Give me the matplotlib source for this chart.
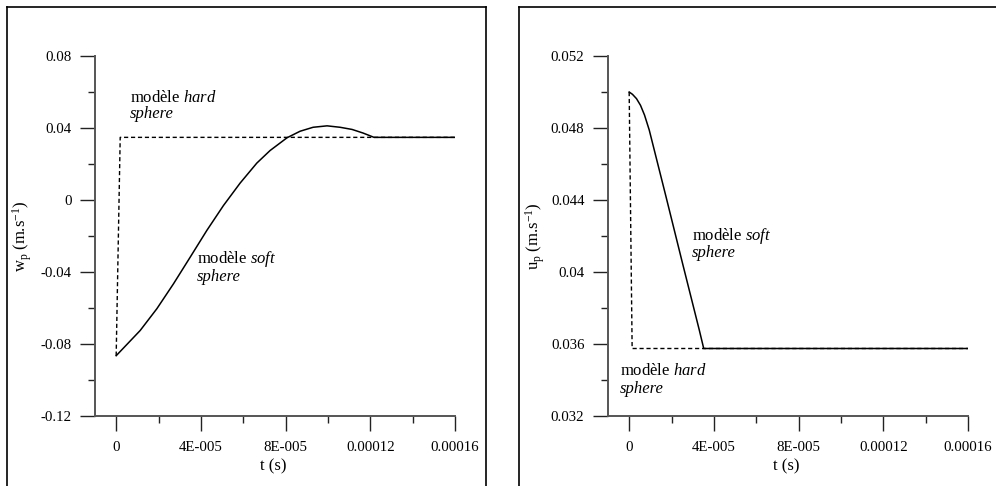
import matplotlib
matplotlib.use("Agg")
import matplotlib.pyplot as plt
from matplotlib.lines import Line2D
from matplotlib.ticker import FixedLocator

plt.rcParams["font.family"] = ["Liberation Serif", "DejaVu Serif"]
plt.rcParams["mathtext.fontset"] = "custom"
plt.rcParams["mathtext.rm"] = "Liberation Serif"
plt.rcParams["mathtext.it"] = "Liberation Serif:italic"

# --- left panel: vertical velocity w_p ---
w_soft_t = [0, 1.133e-5, 1.921e-5, 2.704e-5, 3.493e-5, 4.281e-5, 5.064e-5, 5.853e-5,
            6.641e-5, 7.269e-5, 8.071e-5, 8.685e-5, 9.298e-5, 9.959e-5, 1.0572e-4,
            1.1139e-4, 1.1658e-4, 1.2177e-4, 1.6e-4]
w_soft_v = [-0.0865, -0.0725, -0.0604, -0.0466, -0.0318, -0.0169, -0.0031, 0.0094,
            0.0205, 0.0275, 0.0346, 0.0382, 0.0404, 0.0412, 0.0404,
            0.0392, 0.0372, 0.0348, 0.0348]
w_hard_t = [0, 1.9e-6, 1.6e-4]
w_hard_v = [-0.0865, 0.0348, 0.0348]

# --- right panel: horizontal velocity u_p ---
u_soft_t = [0, 1.56e-6, 3.46e-6, 5.35e-6, 7.24e-6, 9.47e-6, 1.74e-5, 2.52e-5, 3.31e-5,
            3.52e-5, 1.6e-4]
u_soft_v = [0.0500, 0.04987, 0.04963, 0.04926, 0.04872, 0.04789, 0.04418, 0.04048,
            0.03678, 0.03575, 0.03575]
u_hard_t = [0, 1.4e-6, 1.6e-4]
u_hard_v = [0.0500, 0.03575, 0.03575]

x_major = [0, 4e-5, 8e-5, 1.2e-4, 1.6e-4]
x_labels = ["0", "4E-005", "8E-005", "0.00012", "0.00016"]
x_minor = [2e-5, 6e-5, 1e-4, 1.4e-4]
w_major = [-0.12, -0.08, -0.04, 0, 0.04, 0.08]
w_labels = ["-0.12", "-0.08", "-0.04", "0", "0.04", "0.08"]
u_major = [0.032, 0.036, 0.04, 0.044, 0.048, 0.052]
u_labels = ["0.032", "0.036", "0.04", "0.044", "0.048", "0.052"]

W, H = 996, 486
fig = plt.figure(figsize=(W / 100, H / 100), dpi=100)


def px_ax(x0, x1, y0, y1):
    return fig.add_axes([x0 / W, 1 - y1 / H, (x1 - x0) / W, (y1 - y0) / H])


def style(ax, ymaj, ylab, ylim, ylabel):
    ax.set_xlim(-1e-5, 1.6e-4)
    ax.set_ylim(*ylim)
    for s in ("top", "right"):
        ax.spines[s].set_visible(False)
    for s in ("left", "bottom"):
        ax.spines[s].set_color("#555555")
        ax.spines[s].set_linewidth(1.4)
    ax.xaxis.set_major_locator(FixedLocator(x_major))
    ax.set_xticklabels(x_labels)
    ax.xaxis.set_minor_locator(FixedLocator(x_minor))
    ax.yaxis.set_major_locator(FixedLocator(ymaj))
    ax.set_yticklabels(ylab)
    step = ymaj[1] - ymaj[0]
    ax.yaxis.set_minor_locator(FixedLocator([v + step / 2 for v in ymaj[:-1]]))
    ax.tick_params(which="major", direction="out", length=11, width=1, color="#222222",
                   labelsize=10.7, pad=6)
    ax.tick_params(which="minor", direction="out", length=5, width=1, color="#222222")
    ax.tick_params(axis="x", which="major", pad=7)
    ax.set_xlabel("t (s)", fontsize=12)
    ax.xaxis.set_label_coords(0.496, -0.118)
    ax.set_ylabel(ylabel, fontsize=12)
    ax.yaxis.set_label_coords(-0.17, 0.5)


def twoline(ax, x, y1, y2, word):
    ax.text(x, y1, "modèle $\\mathit{" + word + "}$", fontsize=12, va="baseline", ha="left")
    ax.text(x, y2, "sphere", fontsize=12, style="italic", va="baseline", ha="left")


ax1 = px_ax(95, 455, 56, 416)
ax1.plot(w_hard_t, w_hard_v, color="black", lw=1.0, ls=(0, (3, 2)))
ax1.plot(w_soft_t, w_soft_v, color="black", lw=1.1)
style(ax1, w_major, w_labels, (-0.12, 0.08), "w$_\\mathrm{p}$ (m.s$^\\mathrm{-1}$)")
twoline(ax1, 6.6e-6, 0.0544, 0.0456, "hard")
twoline(ax1, 3.81e-5, -0.0352, -0.045, "soft")

ax2 = px_ax(608, 968, 56, 416)
ax2.plot(u_hard_t, u_hard_v, color="black", lw=1.0, ls=(0, (3, 2)))
ax2.plot(u_soft_t, u_soft_v, color="black", lw=1.1)
style(ax2, u_major, u_labels, (0.032, 0.052), "u$_\\mathrm{p}$ (m.s$^\\mathrm{-1}$)")
twoline(ax2, 2.95e-5, 0.04178, 0.04082, "soft")
twoline(ax2, -4.4e-6, 0.03428, 0.03329, "hard")


# panel frames
def fline(xs, ys):
    fig.add_artist(Line2D([x / W for x in xs], [1 - y / H for y in ys],
                          color="black", lw=1.2))


fline([7, 7], [7, 486])
fline([7, 486], [7, 7])
fline([486, 486], [7, 486])
fline([519, 519], [7, 486])
fline([519, 996], [7, 7])

fig.savefig("out.png", dpi=100)
